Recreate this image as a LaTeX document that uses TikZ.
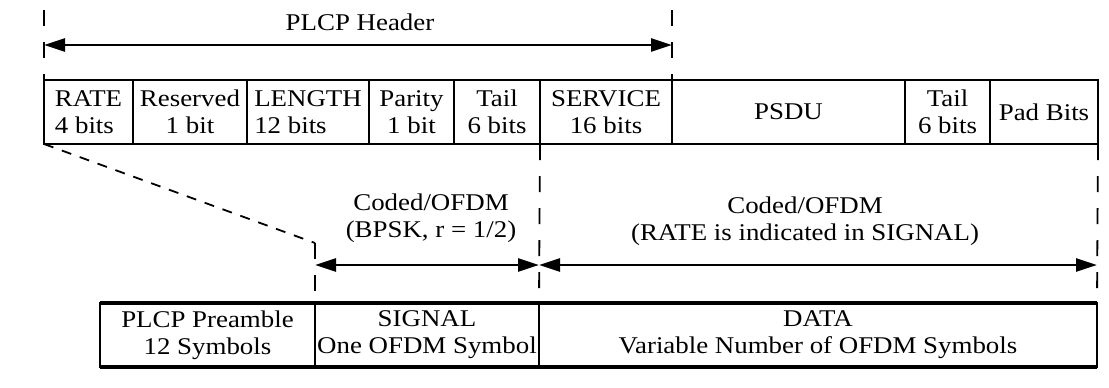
\documentclass[tikz,border=0pt]{standalone}
\usepackage{fontspec}
\setmainfont{Liberation Serif}[FakeStretch=1.12]
\usepackage{tikz}
\usetikzlibrary{positioning,arrows.meta}
\tikzset{
  field/.style={draw,line width=1pt,rectangle,minimum height=32pt,inner xsep=1pt,inner ysep=1pt,outer sep=0pt,align=center},
  span/.style={line width=1.3pt,{Triangle[length=10.5pt,width=6.5pt]}-{Triangle[length=10.5pt,width=6.5pt]}},
  guide/.style={line width=0.9pt,dash pattern=on 8pt off 8pt},
}

\begin{document}
\begin{tikzpicture}[x=0.5pt,y=-0.5pt,font=\fontsize{12}{13.5}\selectfont]
\useasboundingbox (0,0) rectangle (1109,387);

% header fields
\node[field,minimum width=44.5pt,anchor=north west,align=left] (rate) at (44,80) {RATE\\4 bits};
\node[field,minimum width=57pt,right=0pt of rate] (res) {Reserved\\1 bit};
\node[field,minimum width=61pt,right=0pt of res,align=left] (len) {LENGTH\\12 bits};
\node[field,minimum width=42.5pt,right=0pt of len] (par) {Parity\\1 bit};
\node[field,minimum width=43pt,right=0pt of par] (tail) {Tail\\6 bits};
\node[field,minimum width=66pt,right=0pt of tail] (serv) {SERVICE\\16 bits};
\node[field,minimum width=116.5pt,right=0pt of serv] (psdu) {PSDU};
\node[field,minimum width=42.5pt,right=0pt of psdu] (tail2) {Tail\\6 bits};
\node[field,minimum width=54pt,right=0pt of tail2] (pad) {Pad Bits};

% PLCP header span
\node (hdr) at (360,22) {PLCP Header};
\coordinate (hl) at (44,10);
\coordinate (hr) at (672,10);
\coordinate (al) at (44,45);
\coordinate (ar) at (672,45);
\draw[guide] (hl) -- (rate.north west);
\draw[guide] (hr) -- (serv.north east);
\draw[span] (al) -- (ar);

% frame
\node[field,minimum width=107.5pt,anchor=north west] (pre) at (100,303) {PLCP Preamble\\12 Symbols};
\node[field,minimum width=112pt,right=0pt of pre] (sig) {SIGNAL\\One OFDM Symbol};
\node[field,minimum width=279pt,right=0pt of sig] (data) {DATA\\Variable Number of OFDM Symbols};
\draw[line width=2pt] (pre.north west) -- (data.north east);
\draw[line width=2pt] (pre.south west) -- (data.south east);

% mapping
\coordinate (bend) at (315,243);
\draw[guide,dash pattern=on 5pt off 4.5pt] (rate.south west) -- (bend);
\draw[guide] (bend) -- (sig.north west);
\draw[guide] (tail.south east) -- (sig.north east);
\draw[guide] (pad.south east) -- (data.north east);
\draw[span] ([yshift=19pt]sig.north west) -- ([yshift=19pt]sig.north east);
\draw[span] ([yshift=19pt]data.north west) -- ([yshift=19pt]data.north east);
\node[align=center] (codl) at (431,218) {Coded/OFDM\\(BPSK, r = 1/2)};
\node[align=center] (codr) at (805,221) {Coded/OFDM\\(RATE is indicated in SIGNAL)};

\end{tikzpicture}
\end{document}
